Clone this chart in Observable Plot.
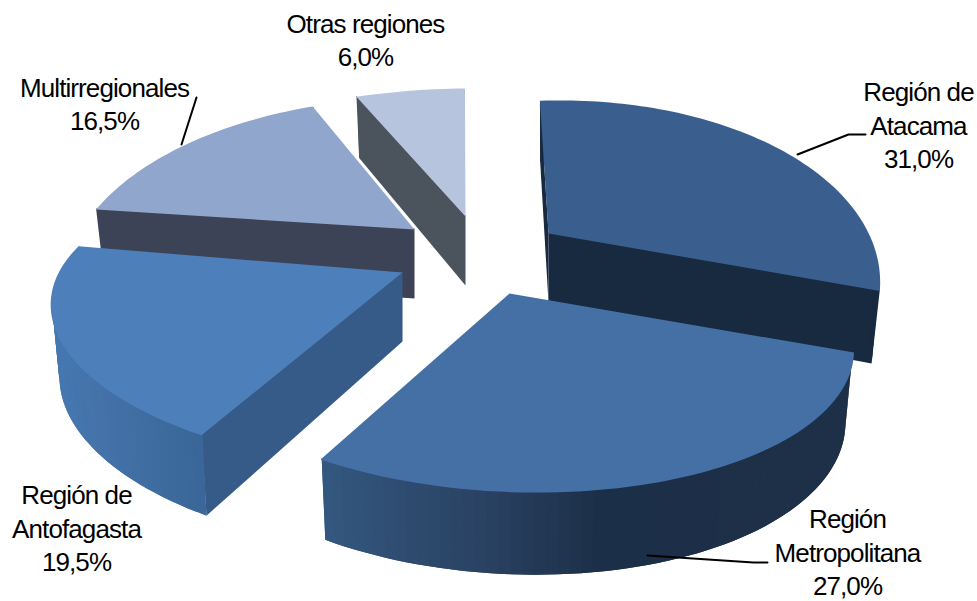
<!DOCTYPE html>
<html>
<head>
<meta charset="utf-8">
<script src="https://cdn.jsdelivr.net/npm/d3@7"></script>
<script src="https://cdn.jsdelivr.net/npm/@observablehq/plot@0.6"></script>
<style>html,body{margin:0;padding:0;background:#fff}svg{display:block}</style>
</head>
<body>
<div id="chart"></div>
<script>
// Data
const regions = ["Región de\nAtacama", "Región\nMetropolitana", "Región de\nAntofagasta", "Multirregionales", "Otras regiones"];
const shares = [31.0, 27.0, 19.5, 16.5, 6.0];

// Pie styling
const topColors = ["#3a5f8e", "#4570a6", "#4d7fba", "#91a6cd", "#b6c4dd"];
const faceColors = ["#182a40", "#1d3048", "#375b88", "#3d4356", "#4b535c"];
const rimStops = [
  [[500, "#182a40"], [900, "#182a40"]],
  [[320, "#345880"], [440, "#2c4769"], [480, "#2a4263"], [600, "#1c2f48"], [850, "#1e3048"]],
  [[55, "#4677b0"], [100, "#4472a8"], [200, "#3a6698"]],
  [[90, "#3d4356"], [420, "#3d4356"]],
  [[350, "#4b535c"], [470, "#4b535c"]]
];

// 3D layout: apex, axis stretch, perspective shift and shear of each exploded slice
const startAngle = -2, radiusX = 317, radiusY = 155, perspective = 0.294, depth = 69, bottomInset = 0.975;
const apexX = [548, 509, 402, 414, 465];
const apexY = [233, 293, 272, 229, 216];
const stretchX = [1.0, 1.03, 1.065, 1.05, 1.18];
const stretchY = [1.11, 0.905, 0.9, 1.1, 1.07];
const shiftX = [0, 30, 15, -15, -42];
const shear = [-0.02, 0.02, 0.03, 0, 0];
const paintOrder = [4, 3, 0, 2, 1];
// which radial cut faces can be seen: 0 = at slice start, 1 = at slice end
const visibleCuts = [[0, 1], [], [0], [0], [0]];

// Label layout
const labelX = [918, 847, 76, 104, 365];
const labelY = [125, 552, 528, 103.5, 40];
const leaderIndex = [0, 0, 0, 1, 1, 1, 3, 3];
const leaderX = [797, 848, 865, 647, 753, 767, 181, 196];
const leaderY = [154, 134, 134, 555, 562, 562, 144, 97];

function rimPoint(i, deg) {
  const a = deg * Math.PI / 180, Z = Math.cos(a), X = Math.sin(a);
  const s = 1 / (1 + perspective * Z);
  const dx = stretchX[i] * radiusX * s * X + shiftX[i] * (s - 1);
  const dy = -stretchY[i] * radiusY * s * Z + shear[i] * dx;
  const inset = 1 - 1.5 / Math.hypot(dx, dy);
  return {
    top: [apexX[i] + dx, apexY[i] + dy],
    under: [apexX[i] + dx * inset, apexY[i] + dy * inset],
    raised: [apexX[i] + dx, apexY[i] + dy - 1],
    bottom: [apexX[i] + dx * bottomInset, apexY[i] + dy + depth * Math.sqrt(s)]
  };
}

let cumulative = 0;
const arcs = shares.map(v => {
  const a0 = startAngle + cumulative * 3.6;
  cumulative += v;
  return [a0, startAngle + cumulative * 3.6];
});

const polygons = [];
function addPolygon(points, color) {
  const id = polygons.length ? polygons[polygons.length - 1].id + 1 : 0;
  points.forEach(([x, y]) => polygons.push({id, x, y, color}));
}
for (const i of paintOrder) {
  const span = arcs[i];
  const [a0, a1] = span;
  const apexTop = [apexX[i], apexY[i]];
  const apexRaised = [apexX[i], apexY[i] - 1];
  const apexBottom = [apexX[i], apexY[i] + depth];
  const rimColor = d3.scaleLinear(rimStops[i].map(d => d[0]), rimStops[i].map(d => d[1])).clamp(true);
  // radial cut faces; their upper edge runs just under the top face
  for (const c of visibleCuts[i]) {
    const p = rimPoint(i, span[c]);
    addPolygon([apexRaised, p.raised, p.bottom, apexBottom], faceColors[i]);
  }
  // outer wall, shaded strip by strip; each strip runs under the next one so no seams show
  const steps = Math.ceil((a1 - a0) / 1.5);
  const angles = d3.range(steps + 1).map(k => a0 + (a1 - a0) * k / steps);
  d3.pairs(angles).forEach(([u, v], k) => {
    const w = angles[Math.min(k + 2, steps)];
    const p = rimPoint(i, u), q = rimPoint(i, v), r = rimPoint(i, w);
    addPolygon([p.under, q.under, r.under, r.bottom, q.bottom, p.bottom], rimColor((p.top[0] + q.top[0]) / 2));
  });
  // top face
  addPolygon([apexTop, ...angles.map(a => rimPoint(i, a).top)], topColors[i]);
}

const labels = regions.map((r, i) => ({
  text: `${r}\n${shares[i].toFixed(1).replace(".", ",")}%`,
  x: labelX[i],
  y: labelY[i] - 1.5
}));
const leaders = leaderX.map((x, k) => ({x, y: leaderY[k], id: leaderIndex[k]}));

const chart = Plot.plot({
  width: 977,
  height: 601,
  margin: 0,
  style: {background: "#fff"},
  x: {domain: [0, 977], range: [0, 977], axis: null},
  y: {domain: [0, 601], range: [0, 601], axis: null},
  color: {type: "identity"},
  marks: [
    Plot.line(polygons, {x: "x", y: "y", z: "id", fill: "color", stroke: "none", curve: "linear"}),
    Plot.line(leaders, {x: "x", y: "y", z: "id", stroke: "#000", strokeWidth: 2}),
    Plot.text(labels, {
      x: "x", y: "y", text: "text",
      lineAnchor: "middle", lineHeight: 1.28,
      fontFamily: "Liberation Sans", fontSize: 26, fill: "#000"
    })
  ]
});
chart.querySelectorAll("text").forEach(t => t.style.letterSpacing = "-0.9px");
document.getElementById("chart").appendChild(chart);
</script>
</body>
</html>
